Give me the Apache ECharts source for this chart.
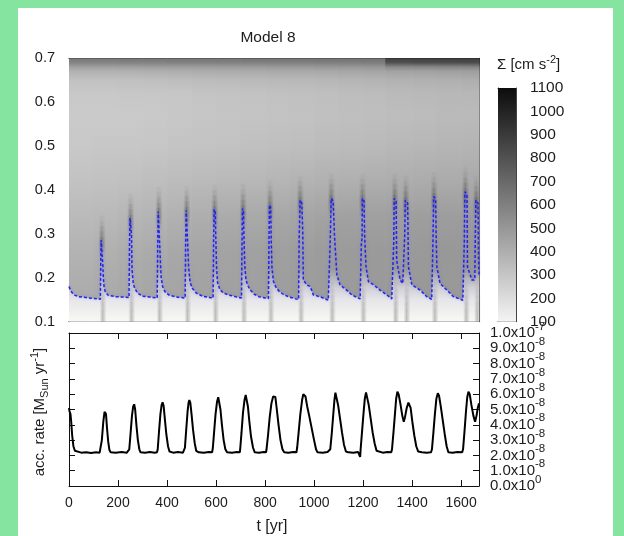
<!DOCTYPE html>
<html><head><meta charset="utf-8">
<script src="https://cdn.jsdelivr.net/npm/echarts/dist/echarts.min.js"></script>
<style>html,body{margin:0;padding:0;background:#85e4a0}#c{width:624px;height:536px}</style>
</head><body><div id="c"></div>
<script>
// ---------------- DATA ----------------
const tMax = 1673;
const xTicks = [0,200,400,600,800,1000,1200,1400,1600];
const rTicks = [0.1,0.2,0.3,0.4,0.5,0.6,0.7];
const sigmaTicks = [100,200,300,400,500,600,700,800,900,1000,1100];

// surface density field: column edges (yr), row radii, values (row x column)
const fieldT = [0,100,200,300,400,500,600,700,800,900,1000,1100,1200,1290,1400,1500,1600,1673];
const fieldR = [0.70,0.69,0.68,0.67,0.65,0.62,0.57,0.50,0.42,0.34,0.26,0.18,0.10];
const field_r070 = [640,640,645,645,650,650,650,655,655,655,660,660,660,880,885,890,890];
const field_r069 = [580,580,585,585,590,590,595,595,600,600,605,605,610,800,810,815,820];
const field_r068 = [460,460,465,470,470,475,480,485,490,490,495,500,505,560,570,575,580];
const field_r067 = [385,385,390,395,400,405,410,415,420,420,425,430,435,450,455,460,465];
const field_r065 = [320,320,325,330,335,340,345,350,355,360,365,370,375,385,390,395,400];
const field_r062 = [290,290,292,295,300,305,310,315,320,325,330,335,340,350,355,360,365];
const field_r057 = [280,280,283,287,292,297,302,307,312,317,322,327,332,338,343,348,352];
const field_r050 = [290,292,296,300,305,310,316,322,328,334,340,345,350,358,364,370,374];
const field_r042 = [315,320,325,332,340,348,356,364,372,380,388,394,400,405,410,415,420];
const field_r034 = [348,356,367,378,390,402,414,425,434,442,450,456,462,467,472,476,480];
const field_r026 = [380,392,404,416,428,440,450,458,466,472,478,482,486,489,492,495,498];
const field_r018 = [408,414,422,432,442,450,458,464,470,474,478,482,486,488,491,494,496];
const field_r010 = [420,424,430,436,442,447,452,456,460,464,468,471,474,476,478,480,482];
const fieldRows = [field_r070,field_r069,field_r068,field_r067,field_r065,field_r062,field_r057,
                   field_r050,field_r042,field_r034,field_r026,field_r018,field_r010];

// bursts: onset time (yr) and radius reached by the inner edge
const burstT   = [129,246,361,475,589,705,815,938,1065,1192,1324,1369,1484,1612,1657];
const burstTop = [0.286,0.336,0.351,0.354,0.356,0.358,0.366,0.377,0.381,0.381,0.381,0.377,0.385,0.396,0.377];

// blue dashed line: [t (yr), r]
const innerEdge = [
 [0,0.18],[6,0.172],[14,0.165],[25,0.16],[40,0.157],[70,0.155],[100,0.153],[128,0.151],
 [129,0.151],[130,0.25],[131,0.286],[137,0.286],[138,0.23],[140,0.2],[143,0.18],[148,0.168],[160,0.16],[190,0.157],[220,0.156],[245,0.155],
 [246,0.155],[247,0.28],[249,0.336],[254,0.336],[255,0.3],[257,0.22],[262,0.188],[268,0.176],[280,0.165],[300,0.158],[330,0.156],[360,0.154],
 [361,0.154],[362,0.28],[364,0.351],[369,0.348],[371,0.263],[376,0.2],[382,0.18],[392,0.168],[410,0.16],[440,0.156],[474,0.154],
 [475,0.154],[476,0.28],[478,0.354],[483,0.35],[485,0.27],[488,0.225],[494,0.19],[503,0.176],[520,0.165],[545,0.158],[574,0.155],[588,0.154],
 [589,0.154],[590,0.28],[592,0.356],[597,0.35],[599,0.29],[602,0.225],[606,0.19],[615,0.174],[628,0.166],[650,0.161],[680,0.157],[704,0.154],
 [705,0.154],[706,0.28],[708,0.358],[712,0.35],[714,0.29],[717,0.23],[722,0.195],[730,0.182],[740,0.172],[755,0.163],[775,0.157],[800,0.154],[814,0.153],
 [815,0.153],[816,0.28],[818,0.366],[823,0.36],[825,0.29],[828,0.225],[834,0.192],[843,0.18],[856,0.17],[875,0.162],[900,0.156],[925,0.152],[937,0.151],
 [938,0.151],[939,0.286],[942,0.29],[943,0.377],[950,0.37],[954,0.3],[956,0.195],[970,0.184],[984,0.18],[990,0.172],[997,0.161],[1024,0.157],[1058,0.149],[1064,0.149],
 [1065,0.149],[1066,0.286],[1069,0.29],[1070,0.381],[1078,0.375],[1083,0.3],[1093,0.206],[1106,0.184],[1133,0.172],[1154,0.161],[1188,0.152],[1191,0.152],
 [1192,0.152],[1193,0.28],[1196,0.29],[1197,0.381],[1204,0.375],[1206,0.3],[1212,0.225],[1222,0.191],[1243,0.184],[1269,0.172],[1297,0.161],[1317,0.152],[1323,0.152],
 [1324,0.152],[1325,0.28],[1327,0.381],[1335,0.375],[1337,0.24],[1351,0.195],[1362,0.187],[1368,0.19],
 [1369,0.19],[1370,0.3],[1372,0.377],[1382,0.37],[1385,0.225],[1399,0.184],[1433,0.172],[1460,0.157],[1480,0.151],[1483,0.151],
 [1484,0.151],[1485,0.28],[1488,0.385],[1496,0.38],[1498,0.3],[1501,0.225],[1514,0.187],[1542,0.172],[1569,0.157],[1607,0.149],[1611,0.149],
 [1612,0.149],[1613,0.28],[1615,0.396],[1624,0.39],[1626,0.225],[1644,0.195],[1653,0.195],[1656,0.2],
 [1657,0.2],[1658,0.3],[1660,0.377],[1669,0.37],[1671,0.25],[1673,0.207]
];

// accretion rate, units of 1e-8 Msun/yr: [t (yr), rate]
const accRate = [
 [0,5.1],[2,4.9],[4,5.0],[6,4.7],[9,4.2],[13,3.3],[18,2.6],[24,2.3],[32,2.2],[50,2.18],[70,2.2],[90,2.15],[110,2.2],[125,2.18],
 [129,2.3],[134,3.0],[140,4.2],[145,4.85],[148,4.97],[151,4.7],[155,3.8],[160,2.9],[165,2.35],[170,2.2],[190,2.18],[215,2.22],[235,2.17],[243,2.2],
 [246,2.4],[251,3.4],[257,4.6],[262,5.2],[266,5.34],[270,5.0],[275,4.0],[281,3.0],[287,2.4],[292,2.2],[310,2.18],[330,2.22],[350,2.17],[359,2.2],
 [362,2.4],[367,3.5],[373,4.7],[378,5.3],[382,5.47],[386,5.25],[391,4.4],[397,3.4],[404,2.6],[410,2.25],[425,2.18],[445,2.22],[465,2.18],[471,2.2],
 [473,2.5],[478,3.6],[484,4.9],[488,5.45],[491,5.62],[495,5.45],[500,4.7],[506,3.7],[513,2.8],[519,2.3],[530,2.2],[550,2.17],[570,2.22],[584,2.2],
 [587,2.5],[592,3.5],[598,4.7],[604,5.5],[609,5.8],[613,5.72],[618,5.0],[624,4.0],[631,3.0],[638,2.4],[645,2.2],[665,2.18],[685,2.22],[697,2.2],
 [699,2.5],[704,3.5],[710,4.8],[716,5.6],[721,5.95],[725,5.85],[730,5.2],[736,4.2],[743,3.2],[751,2.5],[758,2.2],[775,2.18],[795,2.22],[804,2.2],
 [806,2.4],[812,3.3],[819,4.5],[826,5.4],[833,5.85],[838,5.95],[842,5.82],[848,5.0],[855,4.0],[863,3.0],[871,2.4],[878,2.2],[895,2.18],[915,2.22],[928,2.2],
 [931,2.5],[937,3.5],[944,4.7],[951,5.6],[956,6.0],[960,6.06],[965,5.85],[972,5.2],[980,4.6],[990,3.8],[1000,3.0],[1008,2.4],[1014,2.2],[1035,2.18],[1055,2.22],[1063,2.2],
 [1066,2.4],[1072,3.4],[1078,4.6],[1083,5.6],[1087,6.1],[1091,6.0],[1098,5.3],[1106,4.4],[1114,3.5],[1122,2.7],[1130,2.25],[1140,2.2],[1160,2.17],[1180,2.22],[1186,2.2],
 [1188,1.9],[1190,2.4],[1196,3.6],[1202,4.8],[1207,5.7],[1212,6.12],[1216,6.0],[1223,5.3],[1231,4.4],[1239,3.5],[1247,2.8],[1255,2.3],[1262,2.2],[1280,2.18],[1300,2.22],[1315,2.2],
 [1318,2.4],[1324,3.5],[1330,4.7],[1335,5.7],[1340,6.16],[1345,6.0],[1352,5.4],[1360,4.6],[1366,4.2],[1371,4.5],[1378,5.1],[1385,5.45],[1389,5.5],[1394,5.1],[1401,4.2],[1409,3.3],[1417,2.6],[1425,2.25],[1440,2.2],[1460,2.18],[1477,2.2],
 [1481,2.4],[1487,3.5],[1493,4.7],[1499,5.7],[1505,6.06],[1510,5.9],[1517,5.2],[1525,4.3],[1533,3.4],[1541,2.6],[1548,2.2],[1565,2.18],[1585,2.22],[1604,2.2],
 [1608,2.4],[1614,3.6],[1620,4.9],[1625,5.8],[1630,6.16],[1635,6.0],[1642,5.3],[1650,4.6],[1657,4.2],[1663,4.6],[1668,5.1],[1673,5.4]
];
const accTickValues = [0,1,2,3,4,5,6,7,8,9,10];
const accTickLabels = ['0.0x10{s|0}','1.0x10{s|-8}','2.0x10{s|-8}','3.0x10{s|-8}','4.0x10{s|-8}','5.0x10{s|-8}',
                       '6.0x10{s|-8}','7.0x10{s|-8}','8.0x10{s|-8}','9.0x10{s|-8}','1.0x10{s|-7}'];

// ---------------- LAYOUT / STYLE ----------------
const FONT = 'Liberation Sans, Arial, Helvetica, sans-serif';
const TXT = '#1c1c1c';
const G0 = {left:69, top:58.3, width:410, height:263.4};
const G1 = {left:69, top:333, width:410, height:153};
const G2 = {left:498, top:88, width:18, height:233.7};

function sigmaGray(v){ const g = Math.max(0, Math.min(255, Math.round(244 - (v-100)*0.232))); return 'rgb('+g+','+g+','+g+')'; }
function yPix0(r){ return G0.top + (0.7 - r)/0.6*G0.height; }

const axLine = {show:true, onZero:false, lineStyle:{color:'#111', width:1}};
const tickIn = {show:true, inside:true, length:6, lineStyle:{color:'#111', width:1}};
const lbl = {fontFamily:FONT, fontSize:14, color:TXT};

const chart = echarts.init(document.getElementById('c'), null, {renderer:'canvas'});

function hGrad(c0, c1, mid){
  return new echarts.graphic.LinearGradient(0,0,1,0,[{offset:0,color:c0},{offset:mid,color:c1},{offset:1,color:c0}]);
}

const option = {
  backgroundColor: '#85e4a0',
  animation: false,
  graphic: [
    {type:'rect', shape:{x:18, y:8, width:595, height:530}, style:{fill:'#ffffff'}, z:-10, silent:true},
    {type:'text', x:268, y:38, z:50, style:{text:'Model 8', fontFamily:FONT, fontSize:15.5, fill:TXT, align:'center', verticalAlign:'middle'}},
    {type:'text', x:272, y:527, z:50, style:{text:'t [yr]', fontFamily:FONT, fontSize:16, fill:TXT, align:'center', verticalAlign:'middle'}},
    {type:'text', x:497, y:65, z:50, style:{text:'\u03a3 [cm s{s|-2}]', fontFamily:FONT, fontSize:15, fill:TXT, align:'left', verticalAlign:'middle',
       rich:{s:{fontFamily:FONT, fontSize:11, fill:TXT, padding:[0,0,11,0]}}}},
    {type:'text', x:40, y:412, rotation:Math.PI/2, z:50, style:{text:'acc. rate [M{b|Sun} yr{s|-1}]', fontFamily:FONT, fontSize:15, fill:TXT, align:'center', verticalAlign:'middle',
       rich:{s:{fontFamily:FONT, fontSize:11, fill:TXT, padding:[0,0,11,0]}, b:{fontFamily:FONT, fontSize:11, fill:TXT, padding:[9,0,0,0]}}}}
  ],
  grid: [
    {left:G0.left, top:G0.top, width:G0.width, height:G0.height},
    {left:G1.left, top:G1.top, width:G1.width, height:G1.height},
    {left:G2.left, top:G2.top, width:G2.width, height:G2.height}
  ],
  xAxis: [
    {gridIndex:0, type:'value', min:0, max:tMax, interval:200, position:'bottom', axisLine:axLine, axisTick:tickIn, axisLabel:{show:false}, splitLine:{show:false}},
    {gridIndex:0, type:'value', min:0, max:tMax, interval:200, position:'top', axisLine:axLine, axisTick:tickIn, axisLabel:{show:false}, splitLine:{show:false}},
    {gridIndex:1, type:'value', min:0, max:tMax, interval:200, position:'bottom', axisLine:axLine, axisTick:tickIn, splitLine:{show:false},
      axisLabel:Object.assign({margin:10, showMinLabel:true, showMaxLabel:false, formatter:v => (xTicks.indexOf(v) >= 0 ? String(v) : '')}, lbl)},
    {gridIndex:1, type:'value', min:0, max:tMax, interval:200, position:'top', axisLine:axLine, axisTick:tickIn, axisLabel:{show:false}, splitLine:{show:false}},
    {gridIndex:2, type:'value', min:0, max:1, position:'bottom', axisLine:{show:true, onZero:false, lineStyle:{color:'#444'}}, axisTick:{show:false}, axisLabel:{show:false}, splitLine:{show:false}},
    {gridIndex:2, type:'value', min:0, max:1, position:'top', axisLine:{show:true, onZero:false, lineStyle:{color:'#444'}}, axisTick:{show:false}, axisLabel:{show:false}, splitLine:{show:false}}
  ],
  yAxis: [
    {gridIndex:0, type:'value', min:0.1, max:0.7, interval:0.1, position:'left', axisLine:axLine, axisTick:tickIn, splitLine:{show:false},
      axisLabel:Object.assign({}, lbl, {fontSize:14.5, margin:14, showMinLabel:true, showMaxLabel:true, formatter:v => { const i = rTicks.findIndex(x => Math.abs(x - v) < 1e-6); return i >= 0 ? rTicks[i].toFixed(1) : ''; }})},
    {gridIndex:0, type:'value', min:0.1, max:0.7, interval:0.1, position:'right', axisLine:axLine, axisTick:tickIn, axisLabel:{show:false}, splitLine:{show:false}},
    {gridIndex:1, type:'value', min:0, max:10, interval:1, position:'left', axisLine:axLine, axisTick:tickIn, axisLabel:{show:false}, splitLine:{show:false}},
    {gridIndex:1, type:'value', min:0, max:10, interval:1, position:'right', axisLine:axLine, axisTick:tickIn, splitLine:{show:false}, axisLabel:{show:false}},
    {gridIndex:2, type:'value', min:100, max:1100, interval:100, position:'right', axisLine:{show:true, onZero:false, lineStyle:{color:'#444'}},
      axisTick:{show:true, inside:true, length:5, lineStyle:{color:'#333'}}, splitLine:{show:false},
      axisLabel:Object.assign({}, lbl, {fontSize:15.5, margin:14, showMinLabel:true, showMaxLabel:true, formatter:v => (sigmaTicks.indexOf(Math.round(v)) >= 0 ? String(Math.round(v)) : '')})},
    {gridIndex:2, type:'value', min:100, max:1100, interval:100, position:'left', axisLine:{show:true, onZero:false, lineStyle:{color:'#444'}},
      axisTick:{show:true, inside:true, length:5, lineStyle:{color:'#333'}}, axisLabel:{show:false}, splitLine:{show:false}}
  ],
  series: [
    // density field columns
    {type:'custom', xAxisIndex:0, yAxisIndex:0, z:1, silent:true,
      data: fieldT.slice(0,-1).map((t,i) => [t, fieldT[i+1], i]),
      renderItem: (params, api) => {
        const i = api.value(2);
        const p0 = api.coord([api.value(0), 0.7]);
        const p1 = api.coord([api.value(1), 0.1]);
        const stops = fieldR.map((r,j) => ({offset:(0.7 - r)/0.6, color:sigmaGray(fieldRows[j][i])}));
        return {type:'rect', shape:{x:p0[0], y:p0[1], width:p1[0]-p0[0]+0.7, height:p1[1]-p0[1]},
                style:{fill:new echarts.graphic.LinearGradient(0,0,0,1,stops)}};
      }},
    // light inner region below the edge
    {type:'line', xAxisIndex:0, yAxisIndex:0, z:2, silent:true, showSymbol:false, symbol:'none',
      data: innerEdge, lineStyle:{width:0, opacity:0},
      areaStyle:{origin:'start', opacity:1, color:new echarts.graphic.LinearGradient(0, yPix0(0.22), 0, yPix0(0.1), [
        {offset:0, color:'rgba(232,232,238,0)'},
        {offset:0.38, color:'rgba(224,224,232,0.8)'},
        {offset:0.58, color:'rgba(232,232,236,0.97)'},
        {offset:1, color:'rgba(248,248,244,1)'}], true)}},
    // burst streaks
    {type:'custom', xAxisIndex:0, yAxisIndex:0, z:3, silent:true,
      data: burstT.map((t,i) => [t, burstTop[i]]),
      renderItem: (params, api) => {
        const ts = api.value(0), top = api.value(1);
        const ch = [];
        const rect = (t0, t1, r0, r1, fill) => {
          const a = api.coord([t0, r1]), b = api.coord([t1, r0]);
          ch.push({type:'rect', shape:{x:a[0], y:a[1], width:b[0]-a[0], height:b[1]-a[1]}, style:{fill:fill}});
        };
        const low = [0.36,0.34,0.3,0.24,0.16,0.08];
        for (let k = 0; k < low.length; k++) {
          const r0 = 0.1 + k*0.015;
          rect(ts-4, ts+24, r0, r0+0.015, hGrad('rgba(90,90,90,0)', 'rgba(90,90,90,'+low[k]+')', 0.45));
        }
        const al = [0.14,0.3,0.42,0.4,0.3,0.2,0.11,0.05];
        for (let k = 0; k < al.length; k++) {
          const r0 = top - 0.04 + k*0.012;
          rect(ts-9, ts+21, r0, r0+0.012, hGrad('rgba(40,40,40,0)', 'rgba(40,40,40,'+al[k]+')', 0.45));
        }
        return {type:'group', children:ch};
      }},
    // blue dashed inner edge
    {type:'line', xAxisIndex:0, yAxisIndex:0, z:5, silent:true, showSymbol:false, symbol:'none',
      data: innerEdge, lineStyle:{color:'#2424e8', width:1.5, type:[3,2], shadowColor:'rgba(90,90,255,0.45)', shadowBlur:3}},
    // accretion rate
    {type:'line', xAxisIndex:2, yAxisIndex:2, z:5, silent:true, showSymbol:false, symbol:'none',
      data: accRate, lineStyle:{color:'#000', width:2}},
    // right-hand tick labels of the accretion panel, placed through the axis scale
    {type:'custom', xAxisIndex:2, yAxisIndex:3, z:20, silent:true, clip:false,
      data: accTickValues.map((v,i) => [tMax, v, i]),
      renderItem: (params, api) => {
        const p = api.coord([api.value(0), api.value(1)]);
        return {type:'text', x:p[0]+11, y:p[1], style:{text:accTickLabels[api.value(2)], fontFamily:FONT, fontSize:15, fill:TXT,
          align:'left', verticalAlign:'middle', rich:{s:{fontFamily:FONT, fontSize:11.5, fill:TXT, padding:[0,0,13,0]}}}};
      }},
    // colour bar
    {type:'custom', xAxisIndex:4, yAxisIndex:4, z:1, silent:true,
      data: [[0.5, sigmaTicks[0], sigmaTicks[sigmaTicks.length-1]]],
      renderItem: (params, api) => {
        const a = api.coord([0, api.value(2)]), b = api.coord([1, api.value(1)]);
        return {type:'rect', shape:{x:a[0], y:a[1], width:b[0]-a[0], height:b[1]-a[1]},
          style:{fill:new echarts.graphic.LinearGradient(0,0,0,1,[{offset:0,color:sigmaGray(api.value(2))},{offset:1,color:sigmaGray(api.value(1))}])}};
      }}
  ]
};
chart.setOption(option);
</script></body></html>
